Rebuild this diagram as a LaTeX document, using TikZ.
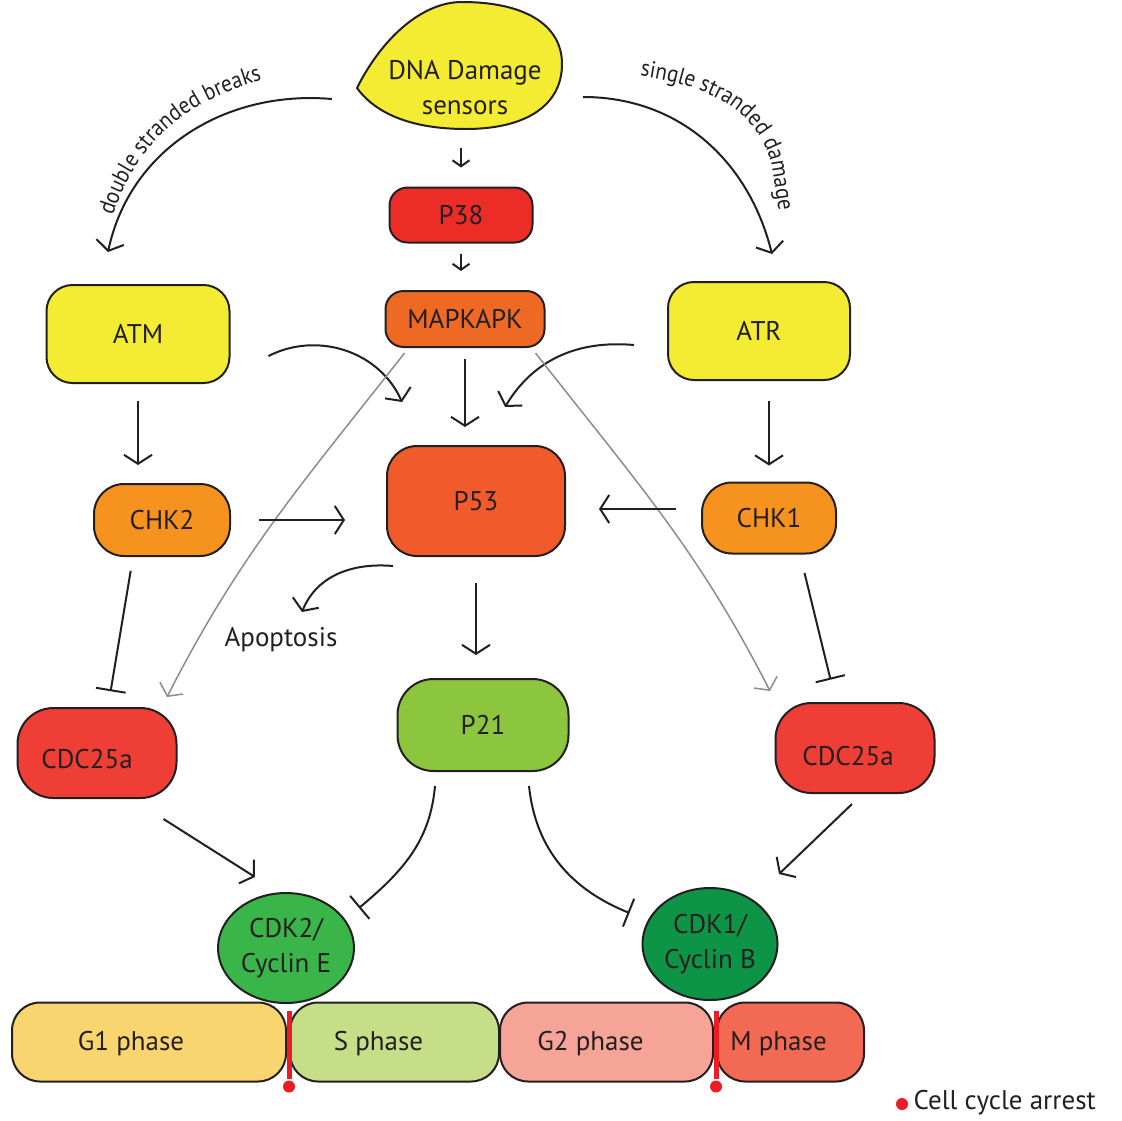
\documentclass[tikz,border=0pt]{standalone}
\usepackage{fontspec}
\usepackage{xcolor}
\setmainfont{PT Sans}
\newfontfamily\arcfamily[FakeStretch=0.9]{PT Sans}
\usetikzlibrary{arrows.meta,shapes.geometric,decorations.text}

\definecolor{outline}{HTML}{231F20}
\definecolor{sensoryellow}{HTML}{F3EC32}
\definecolor{pred}{HTML}{EC2D27}
\definecolor{mapkorange}{HTML}{EE6A24}
\definecolor{chkorange}{HTML}{F6921E}
\definecolor{pfiftythree}{HTML}{F15A2A}
\definecolor{ptwentyone}{HTML}{8CC63F}
\definecolor{cdcred}{HTML}{EF3E36}
\definecolor{cdktwo}{HTML}{39B54A}
\definecolor{cdkone}{HTML}{0D9446}
\definecolor{gonefill}{HTML}{F8D56E}
\definecolor{sfill}{HTML}{C6DE87}
\definecolor{gtwofill}{HTML}{F6A497}
\definecolor{mfill}{HTML}{F26A54}
\definecolor{arrestred}{HTML}{ED1C24}
\definecolor{grayline}{HTML}{8C8C8C}

\newcommand{\arclabelfont}{\arcfamily\fontsize{23.5}{27}\selectfont}

\begin{document}
\begin{tikzpicture}[x=1pt,y=-1pt,
    every node/.style={font=\fontsize{27}{35}\selectfont,text=outline},
    main node/.style={draw=outline,line width=2pt,rounded corners=26pt,inner sep=0pt,align=center,text depth=0pt},
    phase node/.style={main node,minimum height=79pt,rounded corners=28pt},
    complex node/.style={ellipse,draw=outline,line width=2pt,inner sep=0pt,align=center},
    act/.style={draw=outline,line width=2pt,-{Straight Barb[length=9pt,width=28pt]}},
    small act/.style={act,-{Straight Barb[length=6pt,width=17pt]}},
    inh/.style={draw=outline,line width=2pt,-{Bar[width=30pt]}},
    gray act/.style={draw=grayline,line width=1.5pt,-{Straight Barb[length=9pt,width=26pt]}},
    arrest line/.style={draw=arrestred,line width=5pt},
    arrest dot/.style={circle,fill=arrestred,inner sep=0pt,minimum size=12pt}]
        \useasboundingbox (0,0) rectangle (1122,1120);

        % damage sensors blob
        \draw[outline,line width=2pt,fill=sensoryellow] (357,88) .. controls (382,38) and (422,2) .. (462,2)
            .. controls (525,2) and (562,25) .. (562,64) .. controls (562,106) and (525,129) .. (466,129)
            .. controls (412,129) and (376,114) .. (357,88) -- cycle;
        \node[inner sep=0pt,align=center,minimum width=200pt,minimum height=86pt] (dna) at (465,88) {DNA Damage\\sensors};

        \node[main node,fill=pred,minimum width=143pt,minimum height=55pt,rounded corners=18pt] (p38) at (461,215) {P38};
        \node[main node,fill=mapkorange,minimum width=159pt,minimum height=56pt,rounded corners=18pt] (mapk) at (465,319) {MAPKAPK};
        \node[main node,fill=sensoryellow,minimum width=183pt,minimum height=98pt] (atm) at (138,334) {ATM};
        \node[main node,fill=sensoryellow,minimum width=182pt,minimum height=98pt] (atr) at (759,331) {ATR};
        \node[main node,fill=chkorange,minimum width=136pt,minimum height=72pt,rounded corners=30pt] (chk2) at (162,520) {CHK2};
        \node[main node,fill=chkorange,minimum width=134pt,minimum height=71pt,rounded corners=30pt] (chk1) at (769,518) {CHK1};
        \node[main node,fill=pfiftythree,minimum width=178pt,minimum height=110pt,rounded corners=30pt] (p53) at (476,501) {P53};
        \node (apop) at (281,640) {Apoptosis};
        \node[main node,fill=ptwentyone,minimum width=171pt,minimum height=92pt,rounded corners=36pt] (p21) at (483,725) {P21};
        \node[main node,fill=cdcred,minimum width=159pt,minimum height=90pt,rounded corners=36pt] (cdcL) at (97,753) {};
        \node (cdcLtext) at ([shift={(-10,6)}]cdcL.center) {CDC25a};
        \node[main node,fill=cdcred,minimum width=159pt,minimum height=90pt,rounded corners=36pt] (cdcR) at (855,748) {};
        \node (cdcRtext) at ([shift={(-7,8)}]cdcR.center) {CDC25a};
        \node[complex node,fill=cdktwo,minimum width=136pt,minimum height=110pt] (cdk2) at (286,948) {CDK2/\\Cyclin E};
        \node[complex node,fill=cdkone,minimum width=135pt,minimum height=112pt] (cdk1) at (710,944) {CDK1/\\Cyclin B};

        % cell cycle phases
        \node[phase node,fill=gonefill,minimum width=274pt] (g1) at (149,1042) {};
        \node[phase node,fill=sfill,minimum width=209pt] (s) at (394.5,1042) {};
        \node[phase node,fill=gtwofill,minimum width=213pt] (g2) at (606.5,1042) {};
        \node[phase node,fill=mfill,minimum width=147pt] (m) at (790.5,1042) {};
        \node (g1text) at ([shift={(-18,2)}]g1.center) {G1 phase};
        \node (stext) at ([shift={(-16,2)}]s.center) {S phase};
        \node (g2text) at ([shift={(-16,2)}]g2.center) {G2 phase};
        \node (mtext) at ([shift={(-12,2)}]m.center) {M phase};
        \draw[arrest line] ([shift={(2,9)}]g1.north east) -- ([shift={(2,-4)}]g1.south east);
        \node[arrest dot] (arrest1) at ([shift={(2,4)}]g1.south east) {};
        \draw[arrest line] ([shift={(2,9)}]g2.north east) -- ([shift={(2,-4)}]g2.south east);
        \node[arrest dot] (arrest2) at ([shift={(2,4)}]g2.south east) {};
        \node[arrest dot] (legdot) at (902,1104) {};
        \node[anchor=west] (legtext) at (910,1103) {Cell cycle arrest};

        \path
            ([shift={(-33,11)}]dna.west) edge[act,out=175,in=78] ([shift={(-30,-32)}]atm.north)
            ([shift={(18,9)}]dna.east) edge[act,out=0,in=104] ([shift={(13,-27)}]atr.north)
            (p38.north |- dna.south) edge[small act,shorten <=17pt,shorten >=19pt] (p38.north)
            (p38.south) edge[small act,shorten <=10pt,shorten >=19pt] (p38.south |- mapk.north)
            (mapk.south) edge[act,shorten <=11pt,shorten >=18pt] (mapk.south |- p53.north)
            ([shift={(38,22)}]atm.east) edge[act,out=27,in=114] ([shift={(-74,-43)}]p53.north)
            ([shift={(-33,14)}]atr.west) edge[act,out=175,in=59] ([shift={(29,-38)}]p53.north)
            ([shift={(20,5)}]mapk.south west) edge[gray act,out=232,in=63] ([shift={(70,-10)}]cdcL.north)
            ([shift={(-10,5)}]mapk.south east) edge[gray act,out=-52,in=117] ([shift={(-85,-11)}]cdcR.north)
            (atm.south) edge[act,shorten <=17pt,shorten >=18pt] (atm.south |- chk2.north)
            (chk1.north |- atr.south) edge[act,shorten <=20pt,shorten >=16pt] (chk1.north)
            (chk2.east) edge[act,shorten <=28pt,shorten >=41pt] (chk2.east -| p53.west)
            ([yshift=9pt]chk1.west) edge[act,shorten <=25pt,shorten >=33pt] ([yshift=-8pt]p53.east)
            ([shift={(-29,0)}]chk2.south) edge[inh,shorten <=14pt,shorten >=16pt] ([shift={(11,0)}]cdcL.north)
            ([shift={(31,0)}]chk1.south) edge[inh,shorten <=19pt,shorten >=23pt] ([shift={(-19,0)}]cdcR.north)
            ([shift={(7,9)}]p53.south west) edge[act,out=175,in=68] ([shift={(21,-28)}]apop.center)
            (p53.south) edge[act,shorten <=26pt,shorten >=23pt] (p53.south |- p21.north)
            ([shift={(-14,20)}]cdcL.south east) edge[act] ([shift={(-31,-15)}]cdk2.north)
            ([shift={(-3,10)}]cdcR.south) edge[act] ([shift={(69,-13)}]cdk1.north)
            ([shift={(-48,14)}]p21.south) edge[inh,out=-95,in=40] ([shift={(4,-40)}]cdk2.east)
            ([shift={(46,14)}]p21.south) edge[inh,out=-84,in=158] ([shift={(-12,-31)}]cdk1.west);

        % curved labels
        \path[decorate,decoration={text along path,text align=left,text color=outline,
            text={|\arclabelfont|double stranded breaks}}]
            (113,216) to[out=72,in=198] (250,84) -- (300,68);
        \path[decorate,decoration={text along path,text align=left,text color=outline,
            text={|\arclabelfont|single stranded damage}}]
            (640,76) to[out=-8,in=102] (772,168) -- (784,243);
\end{tikzpicture}
\end{document}
